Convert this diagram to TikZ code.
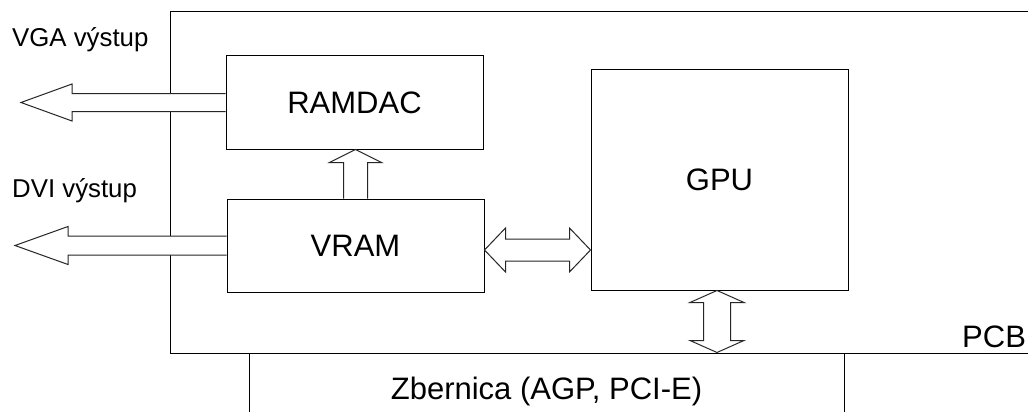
\documentclass[tikz,border=0pt]{standalone}
\usepackage{fontspec}
\setmainfont{Liberation Sans}
\usetikzlibrary{calc}
\begin{document}
\begin{tikzpicture}[x=1pt,y=-1pt,
  box/.style={draw=black,line width=1pt,fill=white,inner sep=0pt},
  big/.style={font=\fontsize{31}{36}\selectfont},
  small/.style={font=\fontsize{25.8}{30}\selectfont,inner sep=0pt},
  blk/.style={draw=black!85,line width=1pt,fill=white,line join=miter}]
\clip (0,0) rectangle (1028,412);
\fill[white] (0,0) rectangle (1028,412);
% PCB board (open to the right)
\node[box,fill=none,minimum width=880pt,minimum height=341pt] (pcb) at (610,182.5) {};
\node[big,inner sep=0pt,anchor=base west] (pcblabel) at (962,347) {PCB};
% blocks
\node[box,big,minimum width=257pt,minimum height=93pt] (ramdac) at (354.5,102.5) {RAMDAC};
\node[box,big,minimum width=257pt,minimum height=93pt] (vram) at (355.5,245.5) {VRAM};
\node[box,big,minimum width=257pt,minimum height=220pt] (gpu) at (719.5,180) {GPU};
\node[box,big,minimum width=595pt,minimum height=76pt] (bus) at (546.5,391) {Zbernica (AGP, PCI-E)};
% labels
\node[small,anchor=base west] (vgalabel) at (12,47) {VGA výstup};
\node[small,anchor=base west] (dvilabel) at (12,197) {DVI výstup};
\coordinate (vgatip) at (21,102.5);
\coordinate (dvitip) at (15,245.5);
% VGA output arrow
\draw[blk] let \p1=(ramdac.west), \p2=(vgatip) in
  (\x1,\y1+9pt) -- (\x2+51pt,\y1+9pt) -- (\x2+51pt,\y1+18.5pt) -- (\x2,\y1)
  -- (\x2+51pt,\y1-18.5pt) -- (\x2+51pt,\y1-9pt) -- (\x1,\y1-9pt);
% DVI output arrow
\draw[blk] let \p1=(vram.west), \p2=(dvitip) in
  (\x1,\y1+9.5pt) -- (\x2+53pt,\y1+9.5pt) -- (\x2+53pt,\y1+19pt) -- (\x2,\y1)
  -- (\x2+53pt,\y1-19pt) -- (\x2+53pt,\y1-9.5pt) -- (\x1,\y1-9.5pt);
% VRAM -> RAMDAC
\draw[blk] let \p1=(vram.north), \p2=(ramdac.south) in
  (\x1-12pt,\y1) -- (\x1-12pt,\y2-13pt) -- (\x1-26pt,\y2-13pt) -- (\x1,\y2)
  -- (\x1+26pt,\y2-13pt) -- (\x1+12pt,\y2-13pt) -- (\x1+12pt,\y1);
% VRAM <-> GPU
\draw[blk] let \p1=($(vram.east)+(0,4.5)$), \p2=(gpu.west) in
  (\x1,\y1) -- (\x1+21pt,\y1+22pt) -- (\x1+21pt,\y1+11pt) -- (\x2-21pt,\y1+11pt)
  -- (\x2-21pt,\y1+22pt) -- (\x2,\y1) -- (\x2-21pt,\y1-22pt) -- (\x2-21pt,\y1-11pt)
  -- (\x1+21pt,\y1-11pt) -- (\x1+21pt,\y1-22pt) -- cycle;
% GPU <-> bus
\draw[blk] let \p1=($(gpu.south)+(-2.5,0)$), \p2=(bus.north) in
  (\x1,\y1) -- (\x1+27pt,\y1-12pt) -- (\x1+13.5pt,\y1-12pt) -- (\x1+13.5pt,\y2+12pt)
  -- (\x1+27pt,\y2+12pt) -- (\x1,\y2) -- (\x1-27pt,\y2+12pt) -- (\x1-13.5pt,\y2+12pt)
  -- (\x1-13.5pt,\y1-12pt) -- (\x1-27pt,\y1-12pt) -- cycle;
\end{tikzpicture}
\end{document}
